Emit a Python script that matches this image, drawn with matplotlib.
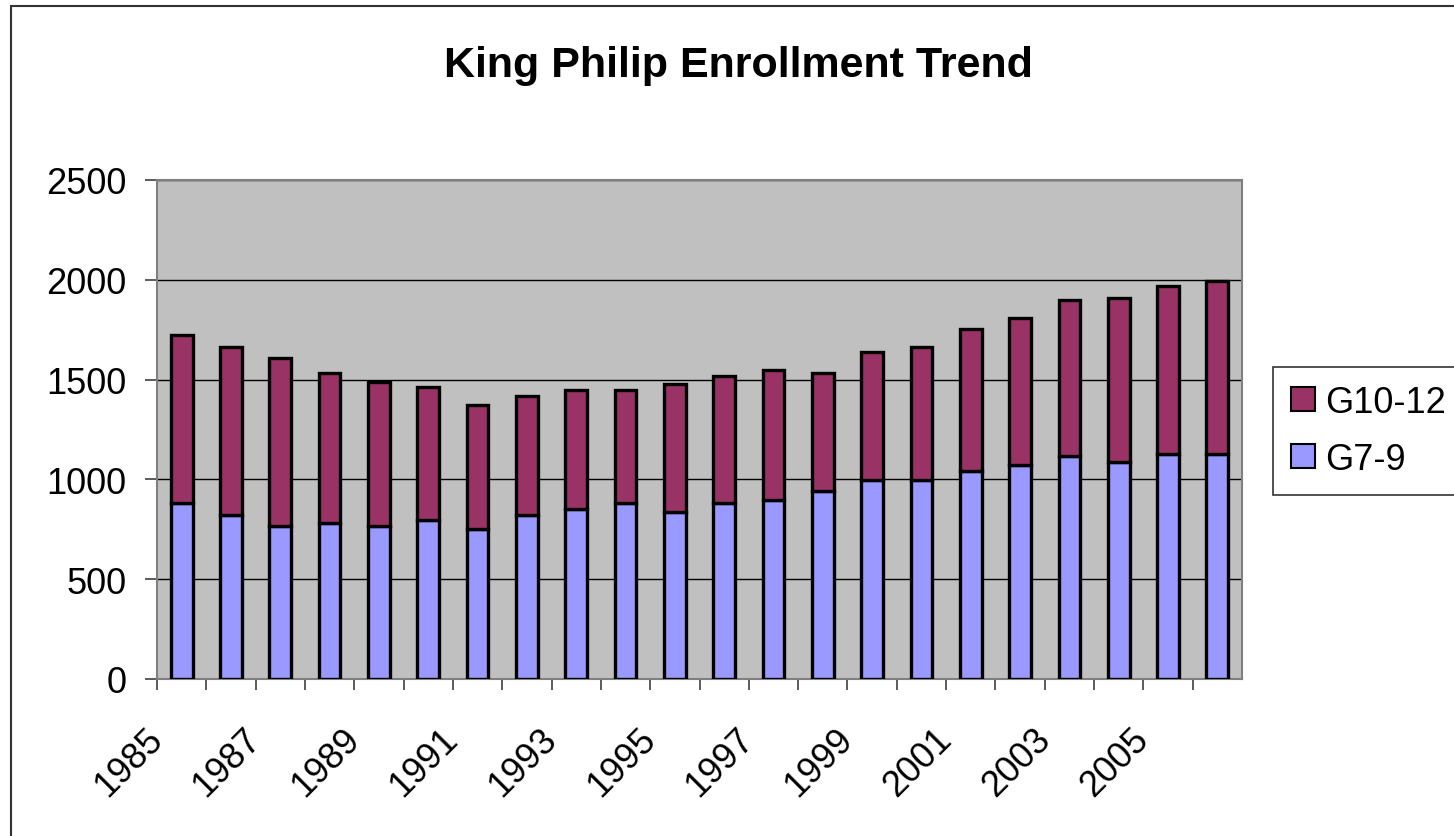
import numpy as np
import matplotlib.pyplot as plt
from matplotlib.patches import Patch, Rectangle

# Enrollment by school year
years = [1985, 1986, 1987, 1988, 1989, 1990, 1991, 1992, 1993, 1994, 1995,
         1996, 1997, 1998, 1999, 2000, 2001, 2002, 2003, 2004, 2005, 2006]
g7_9 = [880, 820, 765, 780, 765, 795, 750, 820, 852, 880, 838,
        882, 897, 940, 997, 997, 1043, 1070, 1115, 1087, 1128, 1128]
g10_12 = [842, 845, 843, 753, 724, 667, 624, 599, 597, 567, 638,
          636, 653, 593, 639, 666, 709, 737, 782, 823, 842, 868]
yticks = [0, 500, 1000, 1500, 2000, 2500]

plt.rcParams['font.family'] = ['Liberation Sans', 'DejaVu Sans']

fig = plt.figure(figsize=(14.54, 8.37), dpi=100)
ax = fig.add_axes([157/1454, 1 - 680/837, (1242-157)/1454, (680-181)/837])
ax.set_facecolor('#C0C0C0')

x = np.arange(len(years))
w = 0.44
ax.bar(x, g7_9, w, color='#9999FF', edgecolor='black', linewidth=2.4, zorder=3)
ax.bar(x, g10_12, w, bottom=g7_9, color='#993366', edgecolor='black', linewidth=2.4, zorder=3)

ax.set_xlim(-0.5, len(years) - 0.5)
ax.set_ylim(0, 2500)
ax.set_yticks(yticks)
ax.yaxis.grid(True, color='black', linewidth=1)
ax.set_axisbelow(True)
ax.tick_params(axis='y', labelsize=26, length=9, width=1.2, pad=13, color='#404040')

# tick marks sit on category boundaries; labels for every other year
ax.set_xticks(x - 0.5)
ax.set_xticklabels([str(y) if i % 2 == 0 else '' for i, y in enumerate(years)])
ax.tick_params(axis='x', labelsize=26, length=8, width=1.2, pad=31, color='#404040')
for lab in ax.get_xticklabels():
    lab.set_rotation(45)
    lab.set_ha('right')
    lab.set_va('center')
    lab.set_rotation_mode('anchor')

for s in ax.spines.values():
    s.set_color('#808080')
    s.set_linewidth(1.5)

fig.text(0.508, 1 - 66/837, 'King Philip Enrollment Trend', ha='center', va='center',
         fontsize=31, fontweight='bold')

handles = [Patch(facecolor='#993366', edgecolor='black', linewidth=1.5),
           Patch(facecolor='#9999FF', edgecolor='black', linewidth=1.5)]
leg = fig.legend(handles, ['G10-12', 'G7-9'], loc='upper left',
                 bbox_to_anchor=(1273/1454, 1 - 368/837), fontsize=26,
                 frameon=True, fancybox=False, edgecolor='black',
                 handlelength=0.65, handleheight=0.65, handletextpad=0.3,
                 labelspacing=0.6, borderpad=0.5, borderaxespad=0)
leg.get_frame().set_linewidth(1.2)

# outer chart border
fig.patches.append(Rectangle((11/1454, -0.1), 2, 1 - 7/837 + 0.1, transform=fig.transFigure,
                             fill=False, edgecolor='#333333', linewidth=1.5))

fig.savefig('out.png', dpi=100)
